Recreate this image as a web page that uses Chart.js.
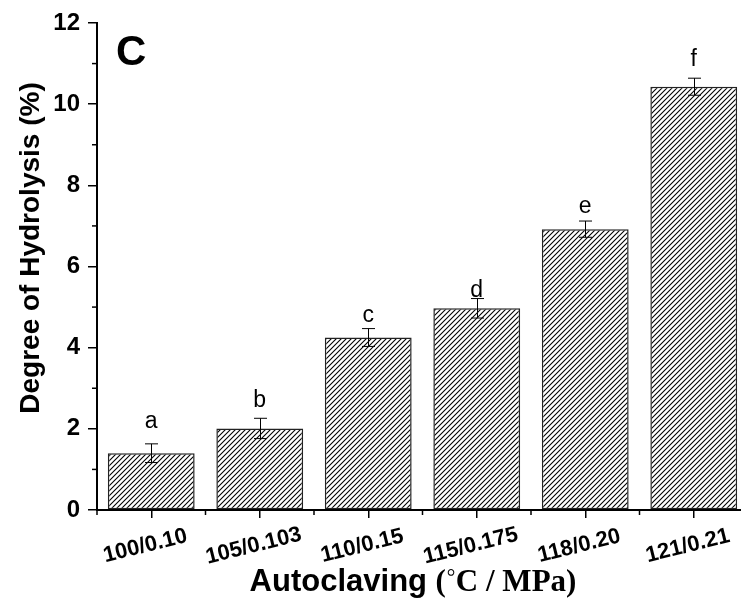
<!DOCTYPE html>
<html><head><meta charset="utf-8">
<script src="https://cdn.jsdelivr.net/npm/chart.js@4.4.0/dist/chart.umd.min.js"></script>
<style>html,body{margin:0;padding:0;overflow:hidden;background:#fff}canvas{display:block}</style>
</head><body>
<canvas id="c" width="760" height="599"></canvas>
<script>
// ---- data ----
const categories = ['100/0.10', '105/0.103', '110/0.15', '115/0.175', '118/0.20', '121/0.21'];
const hydrolysis = [1.40, 2.01, 4.25, 4.97, 6.92, 10.43];
const errors = [0.23, 0.25, 0.22, 0.24, 0.20, 0.21];
const letters = ['a', 'b', 'c', 'd', 'e', 'f'];
const yTickValues = [0, 2, 4, 6, 8, 10, 12];
const yMinorValues = [1, 3, 5, 7, 9, 11];
const panelLabel = 'C';
const yTitle = 'Degree of Hydrolysis (%)';
const xTitleSans = 'Autoclaving ';
const xTitleSerif1 = '(';
const xTitleDeg = '\u25E6';
const xTitleSerif2 = 'C / MPa)';

// ---- style ----
const SANS = '"Liberation Sans", Arial, sans-serif';
const SERIF = '"Liberation Serif", "Times New Roman", serif';
const letterGap = [16, 11, 7, 2, 8, 12];

function makeHatch() {
  const s = 5, c = document.createElement('canvas');
  c.width = s; c.height = s;
  const x = c.getContext('2d');
  x.fillStyle = '#fff'; x.fillRect(0, 0, s, s);
  x.strokeStyle = '#000'; x.lineWidth = 1.1;
  x.beginPath();
  x.moveTo(-1, s + 1); x.lineTo(s + 1, -1);
  x.moveTo(-1, 1); x.lineTo(1, -1);
  x.moveTo(s - 1, s + 1); x.lineTo(s + 1, s - 1);
  x.stroke();
  return document.getElementById('c').getContext('2d').createPattern(c, 'repeat');
}

const overlay = {
  id: 'overlay',
  afterDatasetsDraw(chart) {
    const ctx = chart.ctx, ys = chart.scales.y;
    const meta = chart.getDatasetMeta(0);
    ctx.save();
    ctx.strokeStyle = '#000'; ctx.lineWidth = 1;
    meta.data.forEach((bar, i) => {
      const x = Math.round(bar.x) + 0.5;
      const yt = ys.getPixelForValue(hydrolysis[i] + errors[i]);
      const yb = ys.getPixelForValue(hydrolysis[i] - errors[i]);
      ctx.beginPath();
      ctx.moveTo(x, yt); ctx.lineTo(x, yb);
      ctx.moveTo(x - 6.5, yt); ctx.lineTo(x + 6.5, yt);
      ctx.moveTo(x - 6.5, yb); ctx.lineTo(x + 6.5, yb);
      ctx.stroke();
      ctx.fillStyle = '#000';
      ctx.font = '23px ' + SANS;
      ctx.textAlign = 'center'; ctx.textBaseline = 'alphabetic';
      ctx.fillText(letters[i], bar.x, yt - letterGap[i]);
    });
    ctx.restore();
  },
  afterDraw(chart) {
    const ctx = chart.ctx, xs = chart.scales.x, ys = chart.scales.y;
    const ax = chart.chartArea.left, ay = chart.chartArea.bottom;
    ctx.save();
    ctx.strokeStyle = '#000'; ctx.lineWidth = 1.5;
    yMinorValues.forEach(v => {
      const y = ys.getPixelForValue(v);
      ctx.beginPath(); ctx.moveTo(ax - 5, y); ctx.lineTo(ax, y); ctx.stroke();
    });
    for (let i = 0; i <= categories.length; i++) {
      const x = xs.getPixelForValue(i - 0.5);
      ctx.beginPath(); ctx.moveTo(x, ay); ctx.lineTo(x, ay + 5); ctx.stroke();
    }
    ctx.fillStyle = '#000';
    ctx.font = 'bold 22px ' + SANS;
    ctx.textAlign = 'center'; ctx.textBaseline = 'middle';
    categories.forEach((c, i) => {
      const x = xs.getPixelForValue(i) - 6;
      ctx.save();
      ctx.translate(x, 546);
      ctx.rotate(-14 * Math.PI / 180);
      ctx.fillText(c, 0, 0);
      ctx.restore();
    });
    ctx.save();
    ctx.translate(31, 248);
    ctx.rotate(-Math.PI / 2);
    ctx.font = 'bold 28px ' + SANS;
    ctx.textAlign = 'center'; ctx.textBaseline = 'middle';
    ctx.fillText(yTitle, 0, 0);
    ctx.restore();
    // x title (mixed fonts)
    ctx.textAlign = 'left'; ctx.textBaseline = 'alphabetic';
    const fS = 'bold 31px ' + SANS, fT = 'bold 31px ' + SERIF, fD = '28px ' + SERIF;
    ctx.font = fS; const w1 = ctx.measureText(xTitleSans).width;
    ctx.font = fT; const w2 = ctx.measureText(xTitleSerif1).width;
    ctx.font = fD; const w3 = ctx.measureText(xTitleDeg).width;
    ctx.font = fT; const w4 = ctx.measureText(xTitleSerif2).width;
    let x0 = 413 - (w1 + w2 + w3 + w4) / 2;
    ctx.font = fS; ctx.fillText(xTitleSans, x0, 591); x0 += w1;
    ctx.font = fT; ctx.fillText(xTitleSerif1, x0, 591); x0 += w2;
    ctx.font = fD; ctx.fillText(xTitleDeg, x0, 581); x0 += w3;
    ctx.font = fT; ctx.fillText(xTitleSerif2, x0, 591);
    ctx.font = 'bold 42px ' + SANS;
    ctx.fillText(panelLabel, 116, 65);
    ctx.restore();
  }
};

new Chart(document.getElementById('c'), {
  type: 'bar',
  data: {
    labels: categories,
    datasets: [{
      data: hydrolysis,
      backgroundColor: makeHatch(),
      borderColor: '#222',
      borderWidth: 1.5,
      borderSkipped: false,
      barPercentage: 0.8,
      categoryPercentage: 1.0
    }]
  },
  options: {
    responsive: false,
    animation: false,
    devicePixelRatio: 1,
    layout: { padding: { left: 0, top: 23, right: 12, bottom: 0 } },
    plugins: { legend: { display: false }, tooltip: { enabled: false } },
    scales: {
      x: {
        type: 'category',
        offset: true,
        afterFit: s => { s.height = 89; },
        grid: { display: true, offset: false, drawOnChartArea: false, drawTicks: true, tickLength: 8, color: '#000', lineWidth: 1.5 },
        border: { display: true, color: '#000', width: 2 },
        ticks: { display: false }
      },
      y: {
        min: 0, max: 12,
        afterFit: s => { s.width = 97; },
        afterBuildTicks: s => { s.ticks = yTickValues.map(v => ({ value: v })); },
        grid: { display: true, drawOnChartArea: false, drawTicks: true, tickLength: 9, color: '#000', lineWidth: 1.5 },
        border: { display: true, color: '#000', width: 2 },
        ticks: { color: '#000', padding: 8, font: { family: SANS, size: 24, weight: 'bold' } }
      }
    }
  },
  plugins: [overlay]
});
</script>
</body></html>
